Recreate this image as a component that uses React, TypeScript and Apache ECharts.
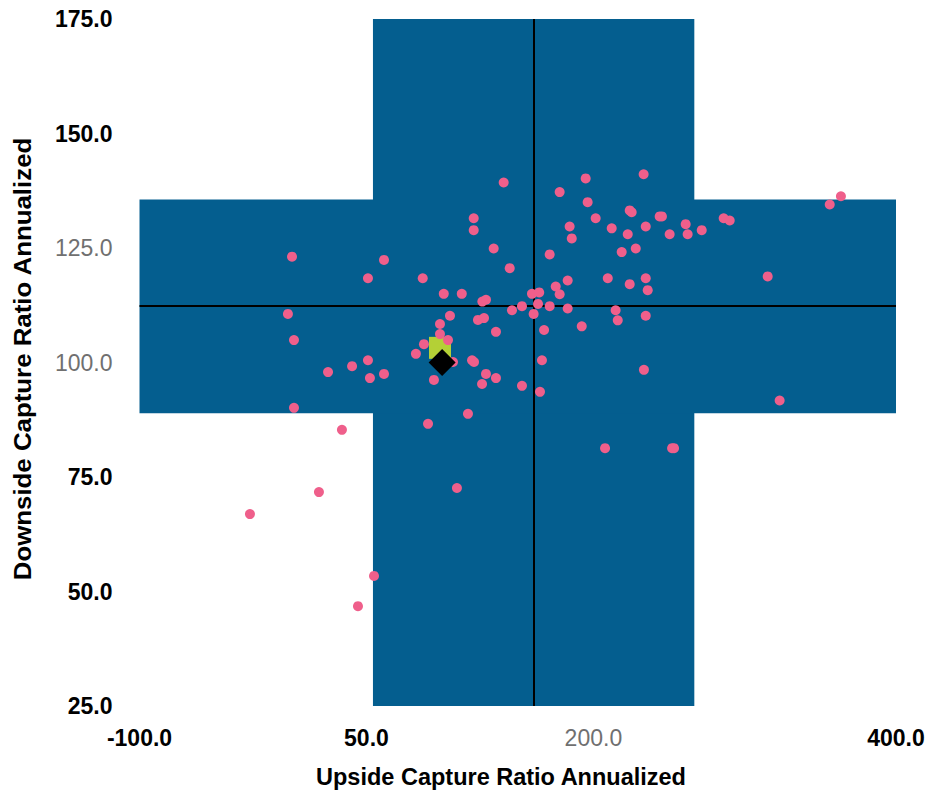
import React, { useEffect, useRef } from "react";
import * as echarts from "echarts";

// Peer funds: upside / downside capture ratios (annualized)
const upsideRatio = [
  -27.0, 18.6, 33.8, 55.0, 44.4, 2.1, 2.1, -1.9, 0.8, 24.6, 40.5, 51.0, 52.3, 61.6, 51.0, 61.6,
  82.7, 87.2, 88.0, 90.7, 94.6, 98.6, 98.6, 101.1, 103.9, 105.2, 107.2, 113.0, 109.8, 117.1,
  119.8, 121.1, 120.9, 120.9, 123.7, 127.7, 126.6, 129.0, 126.4, 129.0, 135.6, 135.6, 134.1,
  140.7, 144.7, 146.2, 152.8, 152.8, 159.4, 160.5, 163.4, 164.2, 164.7, 166.0, 167.4, 171.1,
  171.1, 175.1, 177.7, 177.7, 183.0, 183.0, 184.3, 185.7, 192.3, 194.9, 196.2, 201.5, 209.5,
  207.7, 212.1, 214.7, 216.1, 218.7, 222.7, 224.0, 225.3, 224.0, 228.0, 233.2, 234.6, 234.6,
  235.9, 234.6, 233.4, 243.8, 245.3, 250.4, 252.0, 253.3, 261.0, 262.3, 271.6, 286.1, 290.1,
  315.2, 323.1, 356.2, 363.6,
];
const downsideRatio = [
  66.9, 71.7, 85.3, 53.4, 46.8, 90.1, 104.9, 110.6, 123.1, 97.9, 99.2, 100.5, 96.6, 97.5, 118.4, 122.4,
  101.9, 118.4, 104.0, 86.6, 96.2, 108.4, 106.2, 115.0, 104.9, 110.2, 100.1, 115.0, 72.6, 88.8,
  100.5, 100.1, 131.5, 128.9, 109.3, 109.7, 113.3, 113.7, 95.3, 97.5, 106.7, 96.6, 124.9,
  139.3, 120.6, 111.4, 94.9, 112.3, 115.0, 110.6, 112.8, 115.3, 93.6, 100.5, 107.1, 112.3,
  123.6, 116.6, 114.9, 137.2, 117.9, 111.8, 129.7, 127.1, 107.9, 140.2, 135.0, 131.5, 118.4,
  81.3, 129.3, 111.4, 109.2, 124.1, 128.0, 133.2, 132.8, 117.1, 124.9, 141.1, 129.7, 118.4,
  115.8, 110.2, 98.4, 131.9, 131.9, 128.0, 81.3, 81.3, 130.2, 128.0, 128.9, 131.5, 131.0,
  118.8, 91.7, 134.5, 136.3,
];

// Highlighted fund (square) and benchmark (diamond)
const fundPoint = [98.6, 103.2];
const benchmarkPoint = [100.0, 100.0];

// Peer group averages and spread (cross)
const upsideAverage = 160.5;
const upsideBand = [54.3, 266.7];
const downsideAverage = 112.3;
const downsideBand = [88.9, 135.6];

// Axes
const xTicks = [-100, 50, 200, 400];
const xRange = [-100, 400];
const yRange = [25, 175];
const yStep = 25;

const FONT = "'Liberation Sans', Arial, Helvetica, sans-serif";
const BLUE = "#045e8f";
const PINK = "#ef5f8b";
const GREEN = "#b4d036";

export default function App() {
  const ref = useRef<HTMLDivElement>(null);

  useEffect(() => {
    if (!ref.current) return;
    const chart = echarts.init(ref.current, null, { renderer: "svg" });

    const rich = {
      b: { fontSize: 23, fontWeight: "bold", color: "#000", fontFamily: FONT },
      g: { fontSize: 23, fontWeight: "normal", color: "#707070", fontFamily: FONT },
    };

    const peers = upsideRatio.map((u, i) => [u, downsideRatio[i]]);

    chart.setOption({
      animation: false,
      grid: {
        left: 139.5,
        right: 30,
        top: 19,
        bottom: 84,
        containLabel: false,
        outerBoundsMode: "none",
      },
      xAxis: {
        type: "value",
        min: xRange[0],
        max: xRange[1],
        interval: 150,
        axisLine: { show: false },
        axisTick: { show: false },
        splitLine: { show: false },
        axisLabel: {
          customValues: xTicks,
          showMaxLabel: true,
          margin: 20,
          formatter: (v: number) => {
            if (!xTicks.includes(v)) return "";
            const s = v.toFixed(1);
            return v >= upsideBand[0] && v <= upsideBand[1] ? `{g|${s}}` : `{b|${s}}`;
          },
          rich,
        },
      },
      yAxis: {
        type: "value",
        min: yRange[0],
        max: yRange[1],
        interval: yStep,
        axisLine: { show: false },
        axisTick: { show: false },
        splitLine: { show: false },
        axisLabel: {
          margin: 27,
          formatter: (v: number) => {
            const s = v.toFixed(1);
            return v >= downsideBand[0] && v <= downsideBand[1] ? `{g|${s}}` : `{b|${s}}`;
          },
          rich,
        },
      },
      graphic: [
        {
          type: "text",
          x: 501,
          y: 777,
          style: {
            text: "Upside Capture Ratio Annualized",
            font: `bold 23.5px ${FONT}`,
            fill: "#000",
            align: "center",
            verticalAlign: "middle",
          },
        },
        {
          type: "text",
          x: 23,
          y: 359,
          rotation: Math.PI / 2,
          scaleX: 1.1,
          style: {
            text: "Downside Capture Ratio Annualized",
            font: `bold 23.5px ${FONT}`,
            fill: "#000",
            align: "center",
            verticalAlign: "middle",
          },
        },
      ],
      series: [
        {
          type: "scatter",
          data: [],
          z: 1,
          markArea: {
            silent: true,
            z: 0,
            itemStyle: { color: BLUE, opacity: 1 },
            data: [
              [
                { xAxis: upsideBand[0], yAxis: yRange[0] },
                { xAxis: upsideBand[1], yAxis: yRange[1] },
              ],
              [
                { xAxis: xRange[0], yAxis: downsideBand[0] },
                { xAxis: xRange[1], yAxis: downsideBand[1] },
              ],
            ],
          },
          markLine: {
            silent: true,
            z: 1,
            symbol: ["none", "none"],
            label: { show: false },
            lineStyle: { color: "#000", width: 2, type: "solid", opacity: 1 },
            data: [{ xAxis: upsideAverage }, { yAxis: downsideAverage }],
          },
        },
        {
          type: "scatter",
          z: 2,
          symbol: "rect",
          symbolSize: 22,
          itemStyle: { color: GREEN, opacity: 1 },
          data: [fundPoint],
        },
        {
          type: "scatter",
          z: 3,
          symbol: "circle",
          symbolSize: 10,
          itemStyle: { color: PINK, opacity: 1 },
          data: peers,
        },
        {
          type: "scatter",
          z: 4,
          symbol: "diamond",
          symbolSize: 27,
          itemStyle: { color: "#000", opacity: 1 },
          data: [benchmarkPoint],
        },
      ],
    });

    return () => chart.dispose();
  }, []);

  return (
    <div
      ref={ref}
      style={{ position: "absolute", left: 0, top: 0, width: 926, height: 790 }}
    />
  );
}
